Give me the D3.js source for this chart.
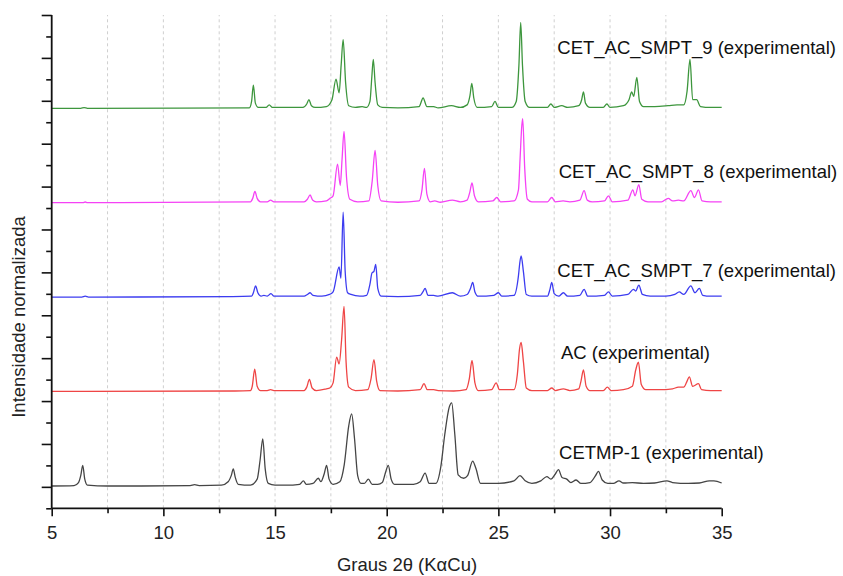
<!DOCTYPE html>
<html>
<head>
<meta charset="utf-8">
<script src="https://cdn.jsdelivr.net/npm/d3@7"></script>
<style>
  body { margin: 0; background: #fff; }
  text { font-family: "Liberation Sans", Arial, sans-serif; }
</style>
</head>
<body>
<svg id="chart" width="843" height="576"></svg>
<script>
// 2theta (deg), normalized intensity
const cetmp1 = [
  [5.0,0],[6.0,0.005],[6.2,0.04],[6.3,0.12],[6.39,0.24],[6.48,0.08],[6.6,0.01],[7.5,0],[9,0],
  [11.2,0.005],[11.4,0.015],[11.6,0.005],[12.6,0.01],[12.9,0.05],[13.05,0.13],[13.13,0.2],[13.22,0.1],
  [13.35,0.02],[13.9,0.01],[14.2,0.08],[14.33,0.3],[14.45,0.55],[14.56,0.2],[14.7,0.03],[15.0,0.01],
  [15.5,0.01],[16.1,0.02],[16.27,0.06],[16.4,0.02],[16.7,0.03],[16.94,0.09],[17.05,0.05],[17.2,0.14],
  [17.31,0.24],[17.42,0.08],[17.6,0.02],[17.9,0.05],[18.1,0.25],[18.3,0.7],[18.43,0.84],[18.56,0.55],
  [18.7,0.12],[18.85,0.03],[19.0,0.03],[19.18,0.08],[19.35,0.02],[19.6,0.02],[19.8,0.04],[19.95,0.16],
  [20.07,0.24],[20.2,0.08],[20.35,0.02],[21.2,0.02],[21.5,0.05],[21.72,0.15],[21.9,0.03],[22.2,0.03],
  [22.42,0.22],[22.6,0.6],[22.8,0.92],[22.91,0.97],[23.05,0.6],[23.2,0.13],[23.45,0.09],[23.62,0.12],
  [23.85,0.29],[24.0,0.2],[24.2,0.03],[25.0,0.03],[25.7,0.06],[25.97,0.12],[26.2,0.06],[26.5,0.03],
  [26.9,0.06],[27.17,0.11],[27.35,0.08],[27.55,0.14],[27.69,0.19],[27.85,0.1],[28.06,0.08],[28.25,0.04],
  [28.48,0.07],[28.7,0.03],[29.1,0.04],[29.35,0.12],[29.48,0.17],[29.65,0.07],[29.9,0.03],[30.15,0.03],
  [30.4,0.06],[30.6,0.035],[31.0,0.04],[31.5,0.03],[32.0,0.035],[32.55,0.06],[32.8,0.04],[33.5,0.03],
  [34.0,0.035],[34.45,0.06],[34.65,0.06],[35.0,0.035]
];

const ac = [
  [5,0],[6.5,0],[13.2,0.005],[13.9,0.01],[13.98,0.06],[14.09,0.26],[14.2,0.06],[14.35,0.01],[14.65,0.01],
  [14.8,0.02],[14.95,0.01],[16.3,0.01],[16.42,0.05],[16.54,0.14],[16.66,0.04],[16.85,0.01],[17.3,0.03],
  [17.45,0.04],[17.6,0.1],[17.76,0.40],[17.87,0.32],[17.98,0.6],[18.09,0.99],[18.18,0.35],[18.3,0.05],
  [18.6,0.01],[19.15,0.02],[19.3,0.15],[19.43,0.37],[19.55,0.12],[19.7,0.01],[20.5,0.005],[21.5,0.02],
  [21.67,0.09],[21.82,0.02],[22.1,0.02],[22.3,0.01],[23.0,0.005],[23.55,0.02],[23.7,0.15],[23.82,0.36],
  [23.95,0.1],[24.1,0.01],[24.7,0.02],[24.9,0.10],[25.05,0.02],[25.7,0.02],[25.85,0.2],[25.95,0.5],
  [26.02,0.57],[26.12,0.35],[26.25,0.04],[26.5,0.01],[27.2,0.01],[27.39,0.04],[27.55,0.01],[27.91,0.03],
  [28.2,0.01],[28.6,0.03],[28.7,0.12],[28.81,0.25],[28.93,0.06],[29.1,0.01],[29.7,0.01],[29.88,0.05],
  [30.05,0.01],[30.6,0.02],[31.0,0.06],[31.15,0.25],[31.27,0.34],[31.4,0.08],[31.6,0.02],[32.2,0.02],
  [32.8,0.03],[33.06,0.05],[33.3,0.05],[33.45,0.12],[33.55,0.17],[33.7,0.06],[33.96,0.09],[34.1,0.02],
  [34.5,0.01],[35,0.01]
];

const smpt7 = [
  [5,0],[6.35,0],[6.5,0.01],[6.65,0],[13.1,0.005],[13.95,0.01],[14.03,0.05],[14.13,0.13],[14.23,0.05],
  [14.38,0.01],[14.5,0.02],[14.65,0.01],[14.82,0.04],[14.95,0.01],[16.3,0.01],[16.45,0.03],[16.57,0.05],
  [16.7,0.02],[17.1,0.01],[17.44,0.03],[17.6,0.06],[17.87,0.35],[17.95,0.22],[18.05,0.99],[18.14,0.3],
  [18.25,0.05],[18.4,0.03],[18.8,0.01],[19.1,0.02],[19.25,0.15],[19.34,0.28],[19.43,0.3],[19.51,0.38],
  [19.6,0.1],[19.75,0.01],[20.5,0.005],[21.5,0.02],[21.62,0.06],[21.72,0.10],[21.85,0.02],[22.1,0.02],
  [22.3,0.01],[22.94,0.05],[23.3,0.01],[23.6,0.03],[23.75,0.1],[23.85,0.17],[23.95,0.06],[24.1,0.01],
  [24.8,0.02],[25.0,0.05],[25.15,0.01],[25.7,0.02],[25.9,0.25],[25.96,0.4],[26.02,0.48],[26.12,0.3],
  [26.25,0.03],[26.5,0.01],[27.2,0.01],[27.3,0.08],[27.39,0.17],[27.5,0.04],[27.7,0.01],[27.91,0.05],
  [28.1,0.01],[28.65,0.02],[28.84,0.09],[29.0,0.01],[29.75,0.02],[29.93,0.06],[30.1,0.01],[30.8,0.03],
  [31.05,0.09],[31.15,0.07],[31.29,0.14],[31.45,0.03],[31.8,0.01],[32.5,0.01],[32.9,0.03],[33.1,0.06],
  [33.3,0.03],[33.62,0.13],[33.8,0.05],[34.0,0.10],[34.15,0.02],[34.5,0.01],[35,0.01]
];

const smpt8 = [
  [5,0],[6.4,0],[6.5,0.008],[6.6,0],[13.9,0.01],[14.0,0.05],[14.1,0.13],[14.2,0.05],[14.35,0.01],
  [14.65,0.01],[14.8,0.03],[14.95,0.01],[16.3,0.01],[16.45,0.04],[16.57,0.09],[16.68,0.03],[16.85,0.01],
  [17.3,0.02],[17.46,0.05],[17.6,0.08],[17.8,0.45],[17.92,0.2],[18.0,0.5],[18.09,0.83],[18.2,0.3],
  [18.35,0.04],[18.7,0.01],[19.2,0.02],[19.35,0.25],[19.48,0.61],[19.6,0.2],[19.75,0.02],[20.5,0.005],
  [21.45,0.02],[21.58,0.15],[21.69,0.40],[21.8,0.1],[21.95,0.01],[22.15,0.02],[22.4,0.005],[22.94,0.03],
  [23.3,0.01],[23.6,0.03],[23.72,0.12],[23.82,0.23],[23.93,0.08],[24.1,0.01],[24.75,0.02],[24.93,0.06],
  [25.1,0.01],[25.7,0.02],[25.9,0.15],[25.97,0.5],[26.05,0.9],[26.09,0.98],[26.18,0.4],[26.3,0.04],
  [26.5,0.01],[27.2,0.01],[27.39,0.06],[27.55,0.01],[27.9,0.02],[28.2,0.01],[28.65,0.03],[28.84,0.14],
  [28.98,0.03],[29.2,0.01],[29.75,0.02],[29.93,0.08],[30.1,0.01],[30.8,0.03],[31.02,0.15],[31.12,0.08],
  [31.29,0.21],[31.42,0.04],[31.7,0.01],[32.3,0.01],[32.61,0.05],[32.8,0.02],[33.06,0.03],[33.3,0.02],
  [33.62,0.14],[33.78,0.06],[33.96,0.15],[34.12,0.02],[34.5,0.01],[35,0.01]
];

const smpt9 = [
  [5,0],[6.3,0],[6.45,0.008],[6.6,0],[13.85,0.005],[13.95,0.08],[14.03,0.27],[14.12,0.06],[14.25,0.01],
  [14.6,0.01],[14.74,0.04],[14.88,0.01],[16.25,0.01],[16.42,0.05],[16.52,0.10],[16.63,0.03],[16.8,0.01],
  [17.3,0.02],[17.55,0.1],[17.73,0.34],[17.87,0.18],[17.96,0.5],[18.05,0.80],[18.16,0.3],[18.3,0.03],
  [18.6,0.01],[18.9,0.02],[19.1,0.01],[19.25,0.08],[19.33,0.35],[19.40,0.57],[19.48,0.3],[19.6,0.04],
  [19.8,0.01],[20.5,0.005],[21.45,0.02],[21.63,0.12],[21.8,0.02],[22.1,0.02],[22.3,0.005],[22.9,0.03],
  [23.3,0.01],[23.6,0.04],[23.73,0.15],[23.81,0.29],[23.9,0.12],[24.05,0.01],[24.7,0.02],[24.85,0.08],
  [25.0,0.01],[25.6,0.01],[25.8,0.08],[25.92,0.5],[26.0,1.0],[26.08,0.5],[26.2,0.08],[26.4,0.01],
  [27.2,0.01],[27.35,0.05],[27.5,0.01],[27.84,0.03],[28.1,0.01],[28.6,0.03],[28.73,0.1],[28.81,0.19],
  [28.9,0.06],[29.1,0.01],[29.7,0.01],[29.86,0.05],[30.0,0.01],[30.6,0.03],[30.85,0.1],[30.97,0.19],
  [31.06,0.14],[31.2,0.36],[31.32,0.08],[31.5,0.02],[32.0,0.02],[32.6,0.03],[33.0,0.04],[33.3,0.04],
  [33.45,0.2],[33.58,0.57],[33.7,0.1],[33.88,0.10],[34.05,0.02],[34.5,0.01],[35,0.01]
];

const seriesNames = [
  'CETMP-1 (experimental)',
  'AC (experimental)',
  'CET_AC_SMPT_7 (experimental)',
  'CET_AC_SMPT_8 (experimental)',
  'CET_AC_SMPT_9 (experimental)'
];
const seriesData = [cetmp1, ac, smpt7, smpt8, smpt9];
const offsets = [1.04, 5.45, 9.85, 14.25, 18.65];   // vertical stacking, axis units
const xTicks = [5, 10, 15, 20, 25, 30, 35];
const xMinorTicks = [7.5, 12.5, 17.5, 22.5, 27.5, 32.5];
const gridTicks = [7.5, 10, 12.5, 15, 17.5, 20, 22.5, 25, 27.5, 30, 32.5];

function drawChart() {
  const svg = d3.select('#chart');
  const colors = ['#454545', '#ef4545', '#3c3cf0', '#f542f5', '#3d963d'];
  const labelPos = [[27.72, 2.32], [27.8, 6.98], [27.64, 10.8], [27.7, 15.4], [27.64, 21.18]];
  const peakScale = 4.0;

  const x = d3.scaleLinear().domain([5, 35]).range([51.7, 721.7]);
  const y = d3.scaleLinear().domain([0, 23]).range([508.3, 15]);

  // dashed grid
  svg.append('g')
    .selectAll('line')
    .data(gridTicks)
    .join('line')
      .attr('x1', d => x(d)).attr('x2', d => x(d))
      .attr('y1', y(0)).attr('y2', y(23))
      .attr('stroke', '#cfcfcf')
      .attr('stroke-width', 1)
      .attr('stroke-dasharray', '3,3');

  const line = d3.line()
    .x(d => x(d[0]))
    .curve(d3.curveMonotoneX);

  seriesData.forEach((s, i) => {
    svg.append('path')
      .datum(s)
      .attr('fill', 'none')
      .attr('stroke', colors[i])
      .attr('stroke-width', 1.3)
      .attr('stroke-linejoin', 'round')
      .attr('d', line.y(d => y(offsets[i] + peakScale * d[1])));

    svg.append('text')
      .attr('x', x(labelPos[i][0]))
      .attr('y', y(labelPos[i][1]))
      .attr('font-size', 18.5)
      .attr('fill', '#111')
      .text(seriesNames[i]);
  });

  // x axis
  const xAxis = svg.append('g')
    .attr('transform', `translate(0, ${y(0)})`)
    .call(d3.axisBottom(x).tickValues(xTicks).tickSize(8).tickPadding(9.5).tickFormat(d3.format('')));
  svg.append('g')
    .attr('transform', `translate(0, ${y(0)})`)
    .call(d3.axisBottom(x).tickValues(xMinorTicks).tickSize(5).tickFormat(''))
    .call(g => g.select('.domain').remove());

  // y axis, no labels
  const yAxis = svg.append('g')
    .attr('transform', `translate(${x(5)}, 0)`)
    .call(d3.axisLeft(y).tickValues(d3.range(1, 24, 2)).tickSize(10).tickFormat(''));
  svg.append('g')
    .attr('transform', `translate(${x(5)}, 0)`)
    .call(d3.axisLeft(y).tickValues(d3.range(0, 23, 2)).tickSize(5.5).tickFormat(''))
    .call(g => g.select('.domain').remove());

  svg.selectAll('.domain').attr('stroke', '#111').attr('stroke-width', 1.8);
  svg.selectAll('.tick line').attr('stroke', '#111').attr('stroke-width', 1.6);
  xAxis.selectAll('.tick text')
    .attr('font-size', 18.5)
    .attr('font-family', '"Liberation Sans", Arial, sans-serif')
    .attr('fill', '#222');
  // keep the axis lines flat (no outer ticks)
  xAxis.select('.domain').attr('d', `M${x(5)},0H${x(35)}`);
  yAxis.select('.domain').attr('d', `M0,${y(0)}V${y(23)}`);

  svg.append('text')
    .attr('x', 407)
    .attr('y', 571)
    .attr('text-anchor', 'middle')
    .attr('font-size', 18.5)
    .attr('fill', '#222')
    .text('Graus 2θ (KαCu)');

  svg.append('text')
    .attr('transform', 'translate(25, 317) rotate(-90)')
    .attr('text-anchor', 'middle')
    .attr('font-size', 18.5)
    .attr('fill', '#222')
    .text('Intensidade normalizada');
}

drawChart();
</script>
</body>
</html>
